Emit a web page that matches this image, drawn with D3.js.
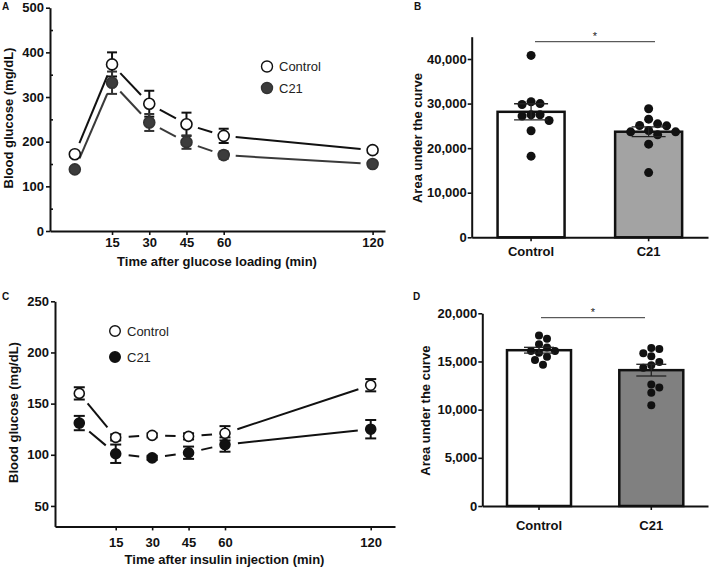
<!DOCTYPE html>
<html>
<head>
<meta charset="utf-8">
<script src="https://cdn.jsdelivr.net/npm/d3@7"></script>
<style>
  html, body { margin: 0; padding: 0; background: #fff; }
  svg { display: block; font-family: "Liberation Sans", Arial, Helvetica, sans-serif; }
  .axis .domain { stroke: #111; stroke-width: 2; }
  .axis .tick line { stroke: #111; stroke-width: 1.6; }
  .axis .tick text { font-size: 13px; font-weight: bold; fill: #111; }
</style>
</head>
<body>
<script>
// ---------------- DATA ----------------
// Panel A: glucose tolerance test
const timePoints = [0, 15, 30, 45, 60, 120];
const ogttControl = [172, 373, 285, 239, 213, 181];
const ogttControlSem = [5, 27, 29, 26, 16, 6];
const ogttC21 = [138, 332, 243, 199, 170, 150];
const ogttC21Sem = [5, 25, 19, 15, 8, 6];
const ogttXTicks = [15, 30, 45, 60, 120];
const ogttYTicks = [0, 100, 200, 300, 400, 500];
const ogttYMinorTicks = [50, 150, 250, 350, 450];

// Panel C: insulin tolerance test
const ittControl = [160, 117, 119, 118, 121, 168];
const ittControlSem = [6, 3, 2, 3, 7, 6];
const ittC21 = [131, 101, 97, 102, 110, 125];
const ittC21Sem = [7, 9, 2, 6, 7, 9];
const ittXTicks = [15, 30, 45, 60, 120];
const ittYTicks = [50, 100, 150, 200, 250];

// Panels B and D: area under the curve (individual animals)
const categories = ["Control", "C21"];
const aucOgttControl = [40800, 30000, 29800, 30400, 27500, 26200, 27200, 27500, 23900, 18200];
const aucOgttC21 = [28830, 26500, 25080, 25010, 25450, 23660, 22980, 23660, 23960, 20900, 14520];
const aucOgttYTicks = [0, 10000, 20000, 30000, 40000];
const aucIttControl = [17700, 17350, 16800, 16450, 16100, 16100, 15900, 15500, 15150, 14650];
const aucIttC21 = [16300, 16400, 15850, 15550, 14950, 14600, 14350, 12600, 12300, 11750, 10450];
const aucIttYTicks = [0, 5000, 10000, 15000, 20000];

const seriesLabels = ["Control", "C21"];
const significance = "*";

// ---------------- SETUP ----------------
const W = 709, H = 570;
const svg = d3.select("body").append("svg").attr("width", W).attr("height", H);
const FONT = '"Liberation Sans", Arial, Helvetica, sans-serif';

function panelLabel(txt, x, y) {
  svg.append("text").attr("x", x).attr("y", y).text(txt)
    .attr("font-size", 10).attr("font-weight", "bold").attr("fill", "#111");
}

function trimSeg(p0, p1, trim) {
  const dx = p1[0] - p0[0], dy = p1[1] - p0[1];
  const L = Math.hypot(dx, dy);
  const ux = dx / L, uy = dy / L;
  return [[p0[0] + ux * trim, p0[1] + uy * trim], [p1[0] - ux * trim, p1[1] - uy * trim]];
}

function lineChart(g, opts) {
  const { x, y, series, trim, r, capW } = opts;
  const line = d3.line();
  series.forEach(s => {
    const pts = timePoints.map((t, i) => [x(t), y(s.values[i])]);
    for (let i = 0; i < pts.length - 1; i++) {
      g.append("path").attr("d", line(trimSeg(pts[i], pts[i + 1], trim)))
        .attr("fill", "none").attr("stroke", s.lineColor).attr("stroke-width", 2);
    }
  });
  series.forEach(s => {
    timePoints.forEach((t, i) => {
      const cx = x(t), y1 = y(s.values[i] + s.sem[i]), y0 = y(s.values[i] - s.sem[i]);
      g.append("line").attr("x1", cx).attr("x2", cx).attr("y1", y1).attr("y2", y0)
        .attr("stroke", s.errColor).attr("stroke-width", 2);
      [y1, y0].forEach(yy => g.append("line").attr("x1", cx - capW / 2).attr("x2", cx + capW / 2)
        .attr("y1", yy).attr("y2", yy).attr("stroke", s.errColor).attr("stroke-width", 2));
    });
  });
  series.forEach(s => {
    g.selectAll(null).data(s.values).enter().append("circle")
      .attr("cx", (d, i) => x(timePoints[i])).attr("cy", d => y(d)).attr("r", r)
      .attr("fill", s.fill).attr("stroke", s.stroke).attr("stroke-width", 1.6);
  });
}

function legend(items, x, y0, dy, r) {
  items.forEach((it, i) => {
    svg.append("circle").attr("cx", x).attr("cy", y0 + i * dy).attr("r", r)
      .attr("fill", it.fill).attr("stroke", it.stroke).attr("stroke-width", 1.4);
    svg.append("text").attr("x", x + 12).attr("y", y0 + i * dy + 4.8).text(it.label)
      .attr("font-size", 13).attr("fill", "#222");
  });
}

// ---------------- PANEL A ----------------
{
  const x = d3.scaleLinear().domain([-10, 125]).range([50, 385]);
  const y = d3.scaleLinear().domain([0, 500]).range([231, 7.7]);
  svg.append("g").attr("class", "axis").attr("transform", "translate(50,0)")
    .call(d3.axisLeft(y).tickValues(ogttYTicks).tickSize(4).tickPadding(2).tickSizeOuter(0));
  const minor = svg.append("g").attr("class", "axis").attr("transform", "translate(50,0)")
    .call(d3.axisRight(y).tickValues(ogttYMinorTicks).tickSize(3).tickFormat(""));
  minor.select(".domain").remove();
  svg.append("g").attr("class", "axis").attr("transform", "translate(0,231)")
    .call(d3.axisBottom(x).tickValues(ogttXTicks).tickSize(4).tickPadding(3).tickSizeOuter(0));
  const g = svg.append("g");
  lineChart(g, {
    x, y, trim: 12, r: 5.5, capW: 10,
    series: [
      { values: ogttControl, sem: ogttControlSem, lineColor: "#111", errColor: "#111", fill: "#fff", stroke: "#111" },
      { values: ogttC21, sem: ogttC21Sem, lineColor: "#3a3a3a", errColor: "#333", fill: "#3c3c3c", stroke: "#333" }
    ]
  });
  svg.append("text").attr("x", 217).attr("y", 265.5).attr("text-anchor", "middle")
    .attr("font-size", 13).attr("font-weight", "bold").attr("fill", "#111")
    .text("Time after glucose loading (min)");
  svg.append("text").attr("transform", "translate(12.5,118) rotate(-90)").attr("text-anchor", "middle")
    .attr("font-size", 13).attr("font-weight", "bold").attr("fill", "#111")
    .text("Blood glucose (mg/dL)");
  legend([{ label: seriesLabels[0], fill: "#fff", stroke: "#111" },
          { label: seriesLabels[1], fill: "#3c3c3c", stroke: "#333" }], 267, 66.5, 21.5, 5.5);
  panelLabel("A", 2, 10);
}

// ---------------- PANEL C ----------------
{
  const x = d3.scaleLinear().domain([-10, 130]).range([55, 395]);
  const y = d3.scaleLinear().domain([30, 250]).range([526.4, 301.3]);
  svg.append("g").attr("class", "axis").attr("transform", "translate(55,0)")
    .call(d3.axisLeft(y).tickValues(ittYTicks).tickSize(4).tickPadding(2).tickSizeOuter(0));
  svg.append("g").attr("class", "axis").attr("transform", "translate(0,526.4)")
    .call(d3.axisBottom(x).tickValues(ittXTicks).tickSize(4).tickPadding(7).tickSizeOuter(0));
  const g = svg.append("g");
  lineChart(g, {
    x, y, trim: 13, r: 5, capW: 11,
    series: [
      { values: ittControl, sem: ittControlSem, lineColor: "#111", errColor: "#111", fill: "#fff", stroke: "#111" },
      { values: ittC21, sem: ittC21Sem, lineColor: "#111", errColor: "#111", fill: "#111", stroke: "#111" }
    ]
  });
  svg.append("text").attr("x", 224.5).attr("y", 564).attr("text-anchor", "middle")
    .attr("font-size", 13).attr("font-weight", "bold").attr("fill", "#111")
    .text("Time after insulin injection (min)");
  svg.append("text").attr("transform", "translate(17.5,412.5) rotate(-90)").attr("text-anchor", "middle")
    .attr("font-size", 13).attr("font-weight", "bold").attr("fill", "#111")
    .text("Blood glucose (mg/dL)");
  legend([{ label: seriesLabels[0], fill: "#fff", stroke: "#111" },
          { label: seriesLabels[1], fill: "#111", stroke: "#111" }], 115, 331, 26, 5.3);
  panelLabel("C", 2, 300);
}

// ---------------- BAR PANELS ----------------
function swarm(values, y, cx, minDist, step) {
  const order = values.map((v, i) => i).sort((a, b) => values[b] - values[a]);
  const placed = [];
  const out = new Array(values.length);
  order.forEach(i => {
    const py = y(values[i]);
    for (let k = 0; k < 40; k++) {
      const off = (k === 0 ? 0 : (k % 2 ? 1 : -1) * Math.ceil(k / 2) * step);
      const px = cx + off;
      if (placed.every(p => Math.hypot(p[0] - px, p[1] - py) >= minDist)) {
        placed.push([px, py]); out[i] = [px, py]; break;
      }
    }
  });
  return out;
}

function barPanel(opts) {
  const { xr, yr, domainMax, ticks, groups, fills, dotR, capW, yTitleX, labelPad, tickFont, sigY, sigX } = opts;
  const x = d3.scaleBand().domain(categories).range(xr).paddingInner(0.43).paddingOuter(0.22);
  const y = d3.scaleLinear().domain([0, domainMax]).range(yr);
  const fmt = d3.format(",");
  const ya = svg.append("g").attr("class", "axis").attr("transform", `translate(${xr[0]},0)`)
    .call(d3.axisLeft(y).tickValues(ticks).tickFormat(d => fmt(d)).tickSize(4).tickPadding(1).tickSizeOuter(0));
  ya.selectAll(".tick text").attr("font-size", tickFont);
  const g = svg.append("g");
  categories.forEach((c, ci) => {
    const vals = groups[ci];
    const m = d3.mean(vals);
    const sem = d3.deviation(vals) / Math.sqrt(vals.length);
    g.append("rect").attr("x", x(c)).attr("y", y(m)).attr("width", x.bandwidth())
      .attr("height", y(0) - y(m)).attr("fill", fills[ci]).attr("stroke", "#111").attr("stroke-width", 2.5);
    const cx = x(c) + x.bandwidth() / 2;
    const pts = swarm(vals, y, cx, dotR * 2, dotR);
    g.selectAll(null).data(pts).enter().append("circle")
      .attr("cx", d => d[0]).attr("cy", d => d[1]).attr("r", dotR).attr("fill", "#111");
    g.append("line").attr("x1", cx).attr("x2", cx).attr("y1", y(m + sem)).attr("y2", y(m - sem))
      .attr("stroke", "#222").attr("stroke-width", 1.3);
    [m + sem, m - sem].forEach(v => g.append("line").attr("x1", cx - capW / 2).attr("x2", cx + capW / 2)
      .attr("y1", y(v)).attr("y2", y(v)).attr("stroke", "#222").attr("stroke-width", 1.3));
  });
  svg.append("g").attr("class", "axis").attr("transform", `translate(0,${yr[0]})`)
    .call(d3.axisBottom(x).tickSize(4).tickPadding(labelPad).tickSizeOuter(0));
  svg.append("text").attr("transform", `translate(${yTitleX},${(yr[0] + yr[1]) / 2 + 1}) rotate(-90)`)
    .attr("text-anchor", "middle").attr("font-size", 13).attr("font-weight", "bold").attr("fill", "#111")
    .text("Area under the curve");
  svg.append("line").attr("x1", sigX[0]).attr("x2", sigX[1]).attr("y1", sigY).attr("y2", sigY)
    .attr("stroke", "#333").attr("stroke-width", 1);
  svg.append("text").attr("x", (sigX[0] + sigX[1]) / 2).attr("y", sigY - 2).attr("text-anchor", "middle")
    .attr("font-size", 11).attr("fill", "#222").text(significance);
}

barPanel({
  xr: [471.7, 708], yr: [237.3, 36.7], domainMax: 45000, ticks: aucOgttYTicks,
  groups: [aucOgttControl, aucOgttC21], fills: ["#fff", "#a3a3a3"], dotR: 4.5, capW: 34,
  yTitleX: 421.5, labelPad: 5, tickFont: 13, sigY: 41.7, sigX: [535, 655]
});
panelLabel("B", 414, 10);

barPanel({
  xr: [482.3, 708], yr: [506, 313.3], domainMax: 20000, ticks: aucIttYTicks,
  groups: [aucIttControl, aucIttC21], fills: ["#fff", "#808080"], dotR: 4, capW: 30,
  yTitleX: 430, labelPad: 11, tickFont: 14, sigY: 317.7, sigX: [541, 645]
});
panelLabel("D", 413, 300);
</script>
</body>
</html>
